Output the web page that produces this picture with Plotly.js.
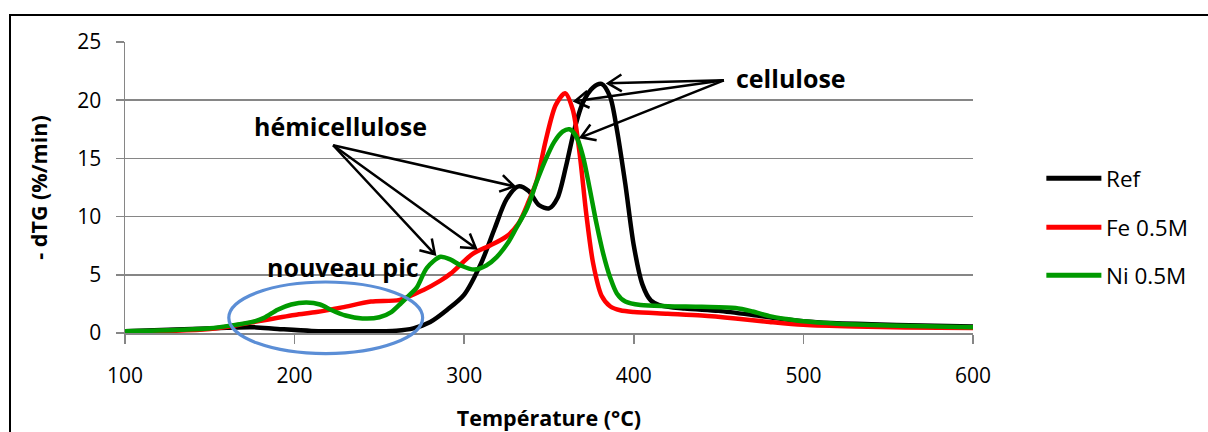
<!DOCTYPE html>
<html><head><meta charset="utf-8">
<script src="https://cdn.plot.ly/plotly-3.0.1.min.js"></script>
<style>
html,body{margin:0;padding:0;background:#fff;overflow:hidden}
#chart{position:absolute;left:0;top:0;width:1208px;height:432px}
#frame{position:absolute;left:9px;top:14px;width:1400px;height:600px;border-top:2px solid #000;border-left:2px solid #000;pointer-events:none}
</style></head><body>
<div id="chart"></div><div id="frame"></div>
<script>
// ---------- data ----------
const seriesNames = ['Ref', 'Fe 0.5M', 'Ni 0.5M'];

const tempRef = [100,130,160,175,190,210,240,260,270,280,290,300,310,318,325,332,338,344,350,355,360,365,370,376,381,386,390,395,400,405,410,415,430,450,470,490,510,540,570,600];
const dtgRef  = [0.15,0.3,0.45,0.5,0.35,0.18,0.15,0.2,0.4,0.95,2.0,3.3,6.0,9.0,11.5,12.6,12.2,11.0,10.7,11.6,14.3,17.5,19.8,21.1,21.4,20.3,17.5,12.8,7.5,4.2,2.8,2.4,2.1,1.9,1.55,1.15,0.9,0.75,0.65,0.55];

const tempFe = [100,130,150,165,180,200,213,228,245,262,276,286,292,305,315,325,332,338,343,348,354,359.5,364,368,372,376,381,386,392,400,420,440,460,480,500,530,560,600];
const dtgFe  = [0.15,0.2,0.35,0.65,1.05,1.55,1.8,2.2,2.7,2.85,3.7,4.5,5.1,6.8,7.5,8.3,9.4,11.3,13.2,16.5,19.6,20.6,19.2,15.5,10.2,6.0,3.2,2.3,1.95,1.8,1.65,1.5,1.25,0.95,0.7,0.55,0.48,0.42];

const tempNi = [100,130,150,165,175,182,190,198,207,215,222,230,240,250,257,263,268,272,278,286,292,298,306,313,319,326,331,337,343,348,353,358,362,366,370,374,378,382,386,390,395,404,420,440,460,470,480,490,500,520,550,600];
const dtgNi  = [0.15,0.25,0.4,0.7,0.95,1.3,2.0,2.45,2.62,2.45,1.95,1.5,1.25,1.35,1.8,2.6,3.3,3.9,5.6,6.55,6.3,5.8,5.45,5.8,6.5,7.8,9.1,10.7,13.1,14.9,16.4,17.3,17.5,16.9,15.2,12.4,9.4,6.8,4.8,3.4,2.7,2.4,2.3,2.25,2.15,1.85,1.45,1.2,1.0,0.8,0.65,0.5];

const xTickVals = [100, 200, 300, 400, 500, 600];
const yTickVals = [0, 5, 10, 15, 20, 25];
const xTitle = 'Température (°C)';
const yTitle = '- dTG (%/min)';
const labelCellulose = 'cellulose';
const labelHemi = 'hémicellulose';
const labelNew = 'nouveau pic';

// ---------- style ----------
const colors = ['#000000', '#FF0000', '#009A00'];
const FONT = '"Open Sans", Lato, "Liberation Sans", sans-serif';
const W = 1208, H = 432;
const M = {l: 125, r: 235, t: 42, b: 99};
const xRange = [100, 600], yRange = [0, 25];
const kx = (W - M.l - M.r) / (xRange[1] - xRange[0]);
const ky = (H - M.t - M.b) / (yRange[1] - yRange[0]);

const xs = [tempRef, tempFe, tempNi];
const ys = [dtgRef, dtgFe, dtgNi];
const traces = seriesNames.map((n, i) => ({
  type: 'scatter', mode: 'lines', name: n, x: xs[i], y: ys[i],
  line: {color: colors[i], width: 4.5, shape: 'spline', smoothing: 0.8},
  showlegend: false, hoverinfo: 'skip'
}));

// arrows: tail and head in data units
const arrowDefs = [
  {t: [453.1, 21.71], h: [384.8, 21.45]},
  {t: [453.1, 21.71], h: [365.3, 19.91]},
  {t: [453.1, 21.71], h: [368.8, 16.81]},
  {t: [222.7, 16.13], h: [329.5, 12.6]},
  {t: [222.7, 16.13], h: [306.9, 7.28]},
  {t: [222.7, 16.13], h: [282.7, 6.76]}
];
const headLen = 16, headAng = 32 * Math.PI / 180;
const shapes = arrowDefs.map(a => {
  const dxp = (a.h[0] - a.t[0]) * kx, dyp = (a.h[1] - a.t[1]) * ky;
  const ang = Math.atan2(dyp, dxp);
  const arm = s => {
    const th = ang + Math.PI + s * headAng;
    return [a.h[0] + headLen * Math.cos(th) / kx, a.h[1] + headLen * Math.sin(th) / ky];
  };
  const p1 = arm(1), p2 = arm(-1);
  return {
    type: 'path', xref: 'x', yref: 'y', layer: 'above',
    path: `M${a.t[0]},${a.t[1]} L${a.h[0]},${a.h[1]} M${p1[0]},${p1[1]} L${a.h[0]},${a.h[1]} L${p2[0]},${p2[1]}`,
    line: {color: '#000', width: 2.5}
  };
});
// blue ellipse
shapes.push({type: 'circle', xref: 'paper', yref: 'paper', layer: 'above',
  x0: 0.1224, x1: 0.351, y0: -0.0708, y1: 0.1753,
  line: {color: '#5B8ED6', width: 3.2}});

// custom legend
const legY = [0.5316, 0.3632, 0.1983];
const annotations = [];
seriesNames.forEach((n, i) => {
  shapes.push({type: 'line', xref: 'paper', yref: 'paper', x0: 1.0865, x1: 1.1514, y0: legY[i], y1: legY[i],
    line: {color: colors[i], width: 5}});
  annotations.push({xref: 'paper', yref: 'paper', x: 1.154, y: legY[i], xanchor: 'left', yanchor: 'middle',
    text: n, showarrow: false, font: {family: FONT, size: 22.5, color: '#000'}});
});
const boldFont = {family: FONT, size: 25, color: '#000'};
annotations.push({x: 492.8, y: 21.88, text: '<b>' + labelCellulose + '</b>', showarrow: false, font: boldFont, xanchor: 'center', yanchor: 'middle'});
annotations.push({x: 227.3, y: 17.75, text: '<b>' + labelHemi + '</b>', showarrow: false, font: boldFont, xanchor: 'center', yanchor: 'middle'});
annotations.push({x: 228.4, y: 5.64, text: '<b>' + labelNew + '</b>', showarrow: false, font: boldFont, xanchor: 'center', yanchor: 'middle'});

const layout = {
  width: W, height: H, margin: M,
  paper_bgcolor: '#fff', plot_bgcolor: '#fff',
  font: {family: FONT, size: 21, color: '#000'},
  showlegend: false,
  xaxis: {
    range: xRange, tickvals: xTickVals, ticktext: xTickVals.map(String),
    showgrid: false, zeroline: false, showline: true, linecolor: '#868686', linewidth: 1.5,
    ticks: 'outside', ticklen: 9, tickcolor: '#868686', tickwidth: 1.5,
    ticklabelstandoff: 14,
    tickfont: {family: FONT, size: 21, color: '#000'},
    title: {text: '<b>' + xTitle + '</b>', font: {family: FONT, size: 21.5, color: '#000'}, standoff: 26},
    automargin: false, fixedrange: true
  },
  yaxis: {
    range: yRange, tickvals: yTickVals, ticktext: yTickVals.map(String),
    showgrid: true, gridcolor: '#868686', gridwidth: 1.5, zeroline: false,
    showline: true, linecolor: '#868686', linewidth: 1.5,
    ticks: 'outside', ticklen: 8, tickcolor: '#868686', tickwidth: 1.5,
    ticklabelstandoff: 10,
    tickfont: {family: FONT, size: 21, color: '#000'},
    title: {text: '<b>' + yTitle + '</b>', font: {family: FONT, size: 21.5, color: '#000'}, standoff: 24},
    automargin: false, fixedrange: true
  },
  shapes: shapes, annotations: annotations
};
Plotly.newPlot('chart', traces, layout, {staticPlot: true, displayModeBar: false});
</script></body></html>
